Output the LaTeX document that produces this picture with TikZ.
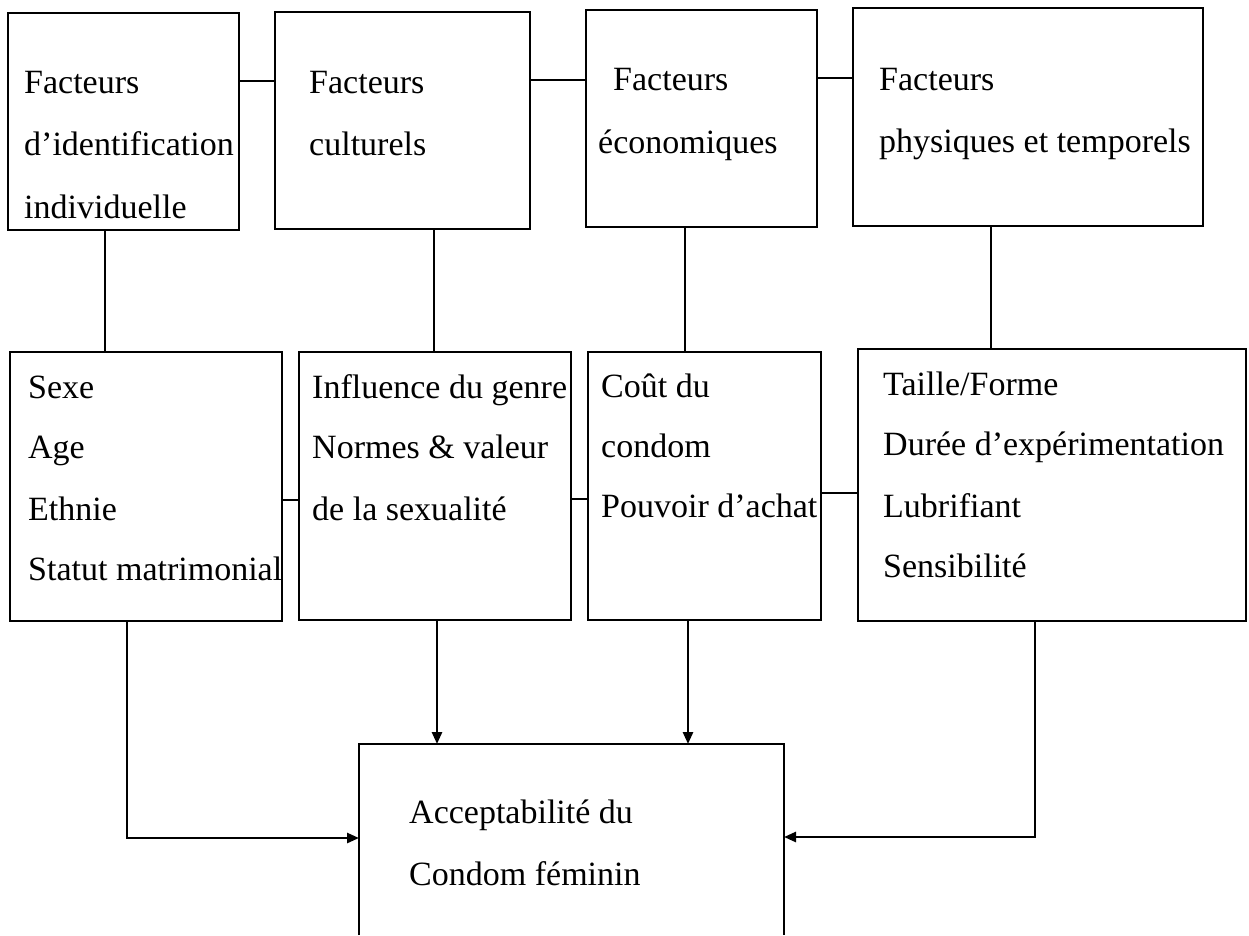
\documentclass[tikz,border=0pt]{standalone}
\usepackage{fontspec}
\setmainfont{Liberation Serif}
\usetikzlibrary{arrows.meta}
\begin{document}
\begin{tikzpicture}[x=1pt,y=-1pt,
  box/.style={draw,line width=2.6pt,inner sep=0pt,outer sep=0pt},
  conn/.style={line width=2.6pt},
  arr/.style={line width=2.6pt,-{Triangle[length=12pt,width=10pt]}},
  txt/.style={anchor=base west,inner sep=0pt,font=\fontsize{34}{40}\selectfont}]
\useasboundingbox[fill=white] (0,0) rectangle (1249,935);
% top row
\node[box,minimum width=231pt,minimum height=217pt] (A) at (123.5,121.5) {};
\node[box,minimum width=255pt,minimum height=217pt] (B) at (402.5,120.5) {};
\node[box,minimum width=231pt,minimum height=217pt] (C) at (701.5,118.5) {};
\node[box,minimum width=350pt,minimum height=218pt] (D) at (1028,117) {};
% middle row
\node[box,minimum width=272pt,minimum height=269pt] (E) at (146,486.5) {};
\node[box,minimum width=272pt,minimum height=268pt] (F) at (435,486) {};
\node[box,minimum width=233pt,minimum height=268pt] (G) at (704.5,486) {};
\node[box,minimum width=388pt,minimum height=272pt] (H) at (1052,485) {};
% bottom (open at the page edge)
\node[inner sep=0pt,outer sep=0pt,minimum width=425pt,minimum height=191pt] (K) at (571.5,839.5) {};
\draw[conn] (K.south west) -- (K.north west) -- (K.north east) -- (K.south east);
% texts
\node[txt] (a1) at (24,93) {Facteurs};
\node[txt] (a2) at (24,155) {d’identification};
\node[txt] (a3) at (24,218) {individuelle};
\node[txt] (b1) at (309,93) {Facteurs};
\node[txt] (b2) at (309,155) {culturels};
\node[txt] (c1) at (613,90) {Facteurs};
\node[txt] (c2) at (598,153) {économiques};
\node[txt] (d1) at (879,90) {Facteurs};
\node[txt] (d2) at (879,152) {physiques et temporels};
\node[txt] (e1) at (28,398) {Sexe};
\node[txt] (e2) at (28,458) {Age};
\node[txt] (e3) at (28,520) {Ethnie};
\node[txt] (e4) at (28,580) {Statut matrimonial};
\node[txt] (f1) at (312,398) {Influence du genre};
\node[txt] (f2) at (312,458) {Normes \& valeur};
\node[txt] (f3) at (312,520) {de la sexualité};
\node[txt] (g1) at (601,397) {Coût du};
\node[txt] (g2) at (601,457) {condom};
\node[txt] (g3) at (601,517) {Pouvoir d’achat};
\node[txt] (h1) at (883,395) {Taille/Forme};
\node[txt] (h2) at (883,455) {Durée d’expérimentation};
\node[txt] (h3) at (883,517) {Lubrifiant};
\node[txt] (h4) at (883,577) {Sensibilité};
\node[txt] (k1) at (409,823) {Acceptabilité du};
\node[txt] (k2) at (409,885) {Condom féminin};
% horizontal links, top row
\draw[conn] (A.east |- 0,81) -- (B.west |- 0,81);
\draw[conn] (B.east |- 0,80) -- (C.west |- 0,80);
\draw[conn] (C.east |- 0,78) -- (D.west |- 0,78);
% horizontal links, middle row
\draw[conn] (E.east |- 0,500) -- (F.west |- 0,500);
\draw[conn] (F.east |- 0,499) -- (G.west |- 0,499);
\draw[conn] (G.east |- 0,493) -- (H.west |- 0,493);
% vertical links
\draw[conn] (A.south -| 105,0) -- (E.north -| 105,0);
\draw[conn] (B.south -| 434,0) -- (F.north -| 434,0);
\draw[conn] (C.south -| 685,0) -- (G.north -| 685,0);
\draw[conn] (D.south -| 991,0) -- (H.north -| 991,0);
% arrows to bottom box
\draw[arr] (F.south -| 437,0) -- (K.north -| 437,0);
\draw[arr] (G.south -| 688,0) -- (K.north -| 688,0);
\draw[arr] (E.south -| 127,0) |- (K.west |- 0,838);
\draw[arr] (H.south -| 1035,0) |- (K.east |- 0,837);
\end{tikzpicture}
\end{document}
